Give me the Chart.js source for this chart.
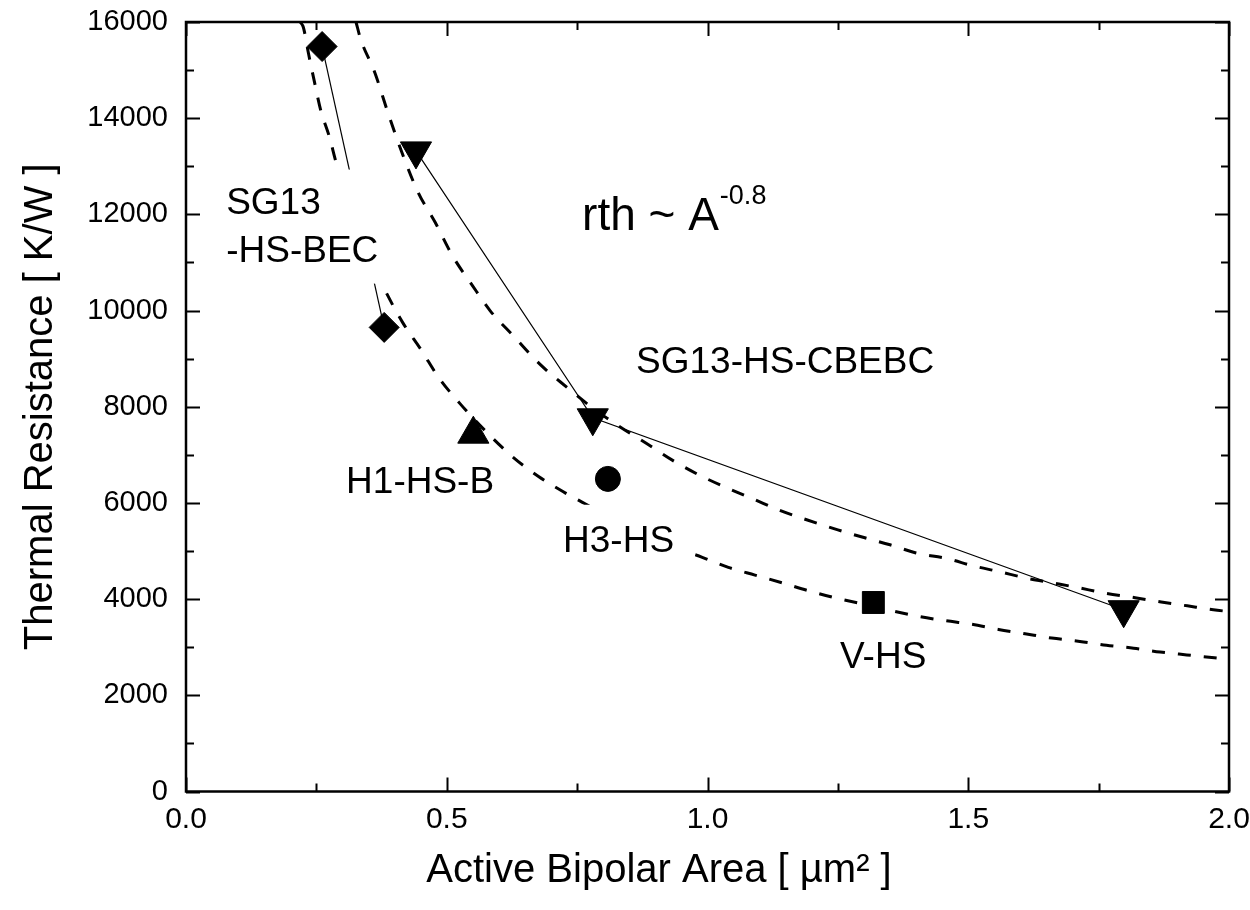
<!DOCTYPE html>
<html>
<head>
<meta charset="utf-8">
<script src="https://cdn.jsdelivr.net/npm/chart.js@4"></script>
<style>
html,body{margin:0;padding:0;background:#fff;}
#wrap{width:1250px;height:910px;position:relative;}
</style>
</head>
<body>
<div id="wrap"><canvas id="c" width="1250" height="910"></canvas></div>
<script>
// ---- data ----
const xTicks = [0.0, 0.5, 1.0, 1.5, 2.0];
const yTicks = [0, 2000, 4000, 6000, 8000, 10000, 12000, 14000, 16000];
const xTitle = 'Active Bipolar Area [ µm² ]';
const yTitle = 'Thermal Resistance [ K/W ]';

// dashed fit curves (rth ~ A^-0.8)
const upperFitX = [0.326,0.335,0.362,0.387,0.416,0.445,0.478,0.512,0.548,0.583,0.629,0.679,0.731,0.779,0.834,0.884,0.934,0.986,1.04,1.09,1.14,1.19,1.25,1.30,1.35,1.40,1.46,1.51,1.56,1.61,1.66,1.71,1.76,1.82,1.87,1.92,1.97,2.0];
const upperFitY = [16000,15640,14950,14120,13230,12460,11830,11120,10540,10000,9460,8880,8400,7980,7570,7230,6880,6570,6300,6070,5840,5650,5440,5280,5130,4960,4840,4690,4570,4440,4340,4240,4130,4030,3940,3860,3780,3740];
const lowerFitX = [0.219,0.225,0.235,0.246,0.258,0.275,0.287,0.31,0.34,0.386,0.415,0.451,0.485,0.525,0.573,0.624,0.676,0.727,0.774,0.832,0.909,0.990,1.040,1.091,1.143,1.195,1.247,1.318,1.357,1.405,1.457,1.506,1.558,1.609,1.660,1.714,1.765,1.817,1.868,1.919,1.972,2.0];
const lowerFitY = [16000,15890,15340,14770,14180,13610,13110,12250,11380,10330,9760,9180,8600,8070,7510,6980,6550,6210,5930,5570,5180,4870,4660,4500,4340,4170,4020,3850,3750,3640,3550,3480,3370,3280,3190,3120,3040,2980,2900,2840,2780,2750];

// measured devices
const becX = [0.261, 0.380];          // SG13-HS-BEC (diamonds)
const becY = [15490, 9650];
const cbebcX = [0.441, 0.780, 1.798]; // SG13-HS-CBEBC (down triangles)
const cbebcY = [13320, 7770, 3780];
const h1X = [0.551];                  // H1-HS-B (up triangle)
const h1Y = [7430];
const h3X = [0.809];                  // H3-HS (circle)
const h3Y = [6500];
const vX = [1.318];                   // V-HS (square)
const vY = [3930];

// annotation texts (anchor in data units, left/baseline)
const labelTexts = ["SG13", "-HS-BEC", "SG13-HS-CBEBC", "H1-HS-B", "H3-HS", "V-HS"];
const labelX = [0.077, 0.077, 0.863, 0.307, 0.723, 1.254];
const labelY = [12000, 11000, 8710, 6210, 4985, 2570];
const formulaText = "rth ~ A";
const formulaSup = "-0.8";
const formulaX = 0.7595, formulaY = 11685;
// opaque label boxes (data units) that hide the curves behind two labels
const boxX0 = [0.046, 0.708], boxX1 = [0.376, 0.976];
const boxY0 = [10560, 4714], boxY1 = [12932, 5962];

const FONT = '"Liberation Sans", Arial, Helvetica, sans-serif';
const zip = (xs, ys) => xs.map((x, i) => ({x, y: ys[i]}));

const decor = {
  id: 'decor',
  afterDatasetsDraw(chart) {
    const ctx = chart.ctx, xs = chart.scales.x, ys = chart.scales.y;
    ctx.save();
    ctx.fillStyle = '#fff';
    for (let i = 0; i < boxX0.length; i++) {
      const a = xs.getPixelForValue(boxX0[i]), b = xs.getPixelForValue(boxX1[i]);
      const t = ys.getPixelForValue(boxY1[i]), u = ys.getPixelForValue(boxY0[i]);
      ctx.fillRect(a, t, b - a, u - t);
    }
    ctx.fillStyle = '#000';
    ctx.textBaseline = 'alphabetic';
    ctx.textAlign = 'left';
    ctx.font = '37px ' + FONT;
    for (let i = 0; i < labelTexts.length; i++) {
      ctx.fillText(labelTexts[i], xs.getPixelForValue(labelX[i]), ys.getPixelForValue(labelY[i]));
    }
    ctx.font = '46px ' + FONT;
    const fx = xs.getPixelForValue(formulaX), fy = ys.getPixelForValue(formulaY);
    ctx.fillText(formulaText, fx, fy);
    const w = ctx.measureText(formulaText).width;
    ctx.font = '27px ' + FONT;
    ctx.fillText(formulaSup, fx + w + 1, fy - 26);
    ctx.restore();
  },
  afterDraw(chart) {
    const ctx = chart.ctx, a = chart.chartArea, xs = chart.scales.x, ys = chart.scales.y;
    ctx.save();
    ctx.strokeStyle = '#000';
    ctx.lineWidth = 2;
    ctx.beginPath();
    const MAJ = 14, MIN = 8;
    for (let v = 0; v <= 2.0001; v += 0.25) {
      const p = Math.round(xs.getPixelForValue(v)) + 0.5;
      const L = (Math.abs(v / 0.5 - Math.round(v / 0.5)) < 1e-6) ? MAJ : MIN;
      ctx.moveTo(p, a.bottom); ctx.lineTo(p, a.bottom - L);
      ctx.moveTo(p, a.top); ctx.lineTo(p, a.top + L);
    }
    for (let v = 0; v <= 16000; v += 1000) {
      const p = Math.round(ys.getPixelForValue(v)) + 0.5;
      const L = (v % 2000 === 0) ? MAJ : MIN;
      ctx.moveTo(a.left, p); ctx.lineTo(a.left + L, p);
      ctx.moveTo(a.right, p); ctx.lineTo(a.right - L, p);
    }
    ctx.stroke();
    ctx.lineWidth = 2.5;
    ctx.strokeRect(a.left, a.top, a.right - a.left, a.bottom - a.top);
    // x-axis title (placed left of centre as in the reference)
    ctx.fillStyle = '#000';
    ctx.font = '40px ' + FONT;
    ctx.textAlign = 'center';
    ctx.textBaseline = 'alphabetic';
    ctx.fillText(xTitle, 659, 882);
    ctx.restore();
  }
};

const fitStyle = {
  showLine: true, borderColor: '#000', borderWidth: 3, borderDash: [13, 13],
  pointRadius: 0, cubicInterpolationMode: 'monotone', order: 10, fill: false
};
const markerBase = {
  backgroundColor: '#000', borderColor: '#000', pointBorderWidth: 1,
  pointBackgroundColor: '#000', pointBorderColor: '#000', order: 1
};
const noPad = s => { s.paddingTop = 0; s.paddingBottom = 0; s.paddingLeft = 0; s.paddingRight = 0; };

new Chart(document.getElementById('c'), {
  type: 'scatter',
  data: {
    datasets: [
      Object.assign({label: 'fit upper', data: zip(upperFitX, upperFitY)}, fitStyle),
      Object.assign({label: 'fit lower', data: zip(lowerFitX, lowerFitY)}, fitStyle),
      Object.assign({label: 'SG13-HS-BEC', data: zip(becX, becY), showLine: true, borderWidth: 1.2,
        pointStyle: 'rectRot', pointRadius: 15}, markerBase),
      Object.assign({label: 'SG13-HS-CBEBC', data: zip(cbebcX, cbebcY), showLine: true, borderWidth: 1.2,
        pointStyle: 'triangle', pointRotation: 180, pointRadius: 18}, markerBase),
      Object.assign({label: 'H1-HS-B', data: zip(h1X, h1Y), showLine: false,
        pointStyle: 'triangle', pointRadius: 18}, markerBase),
      Object.assign({label: 'H3-HS', data: zip(h3X, h3Y), showLine: false,
        pointStyle: 'circle', pointRadius: 12.5}, markerBase),
      Object.assign({label: 'V-HS', data: zip(vX, vY), showLine: false,
        pointStyle: 'rect', pointRadius: 15.5}, markerBase)
    ]
  },
  options: {
    responsive: false,
    animation: false,
    devicePixelRatio: 1,
    layout: {padding: {top: 22, right: 21, left: 0, bottom: 0}},
    plugins: {legend: {display: false}, tooltip: {enabled: false}},
    elements: {line: {borderCapStyle: 'butt'}},
    scales: {
      x: {
        type: 'linear', min: 0, max: 2,
        afterBuildTicks: s => { s.ticks = xTicks.map(v => ({value: v})); },
        afterFit: s => { s.height = 118.5; noPad(s); },
        grid: {display: false, drawTicks: false},
        border: {display: false},
        ticks: {color: '#000', font: {family: FONT, size: 30}, padding: 10,
          callback: v => Number(v).toFixed(1), maxRotation: 0, autoSkip: false},
        title: {display: false, text: xTitle}
      },
      y: {
        type: 'linear', min: 0, max: 16000,
        afterBuildTicks: s => { s.ticks = yTicks.map(v => ({value: v})); },
        afterFit: s => { s.width = 186; noPad(s); },
        grid: {display: false, drawTicks: false},
        border: {display: false},
        ticks: {color: '#000', font: {family: FONT, size: 29}, padding: 18,
          callback: v => String(v), autoSkip: false},
        title: {display: true, text: yTitle, color: '#000',
          font: {family: FONT, size: 40}, padding: {top: 17, bottom: 0}}
      }
    }
  },
  plugins: [decor]
});
</script>
</body>
</html>
